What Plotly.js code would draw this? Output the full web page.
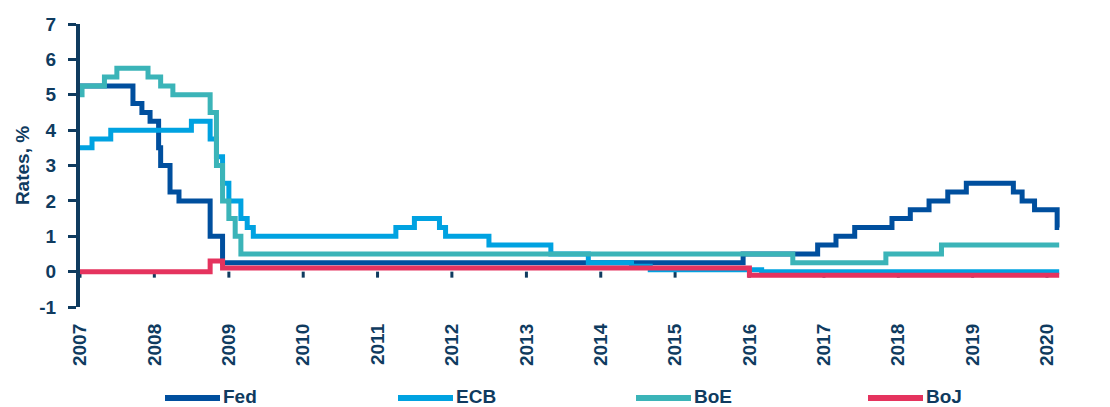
<!DOCTYPE html>
<html>
<head>
<meta charset="utf-8">
<script src="https://cdn.plot.ly/plotly-3.0.1.min.js"></script>
<style>html,body{margin:0;padding:0;background:#fff;}#chart{width:1110px;height:407px;}</style>
</head>
<body>
<div id="chart"></div>
<script>
// Policy rates (%), value from the given date onwards
const fedDates = ['2007-01-01','2007-09-18','2007-11-01','2007-12-11','2008-01-22','2008-02-01','2008-03-18','2008-05-01','2008-10-01','2008-12-01','2015-12-01','2016-12-01','2017-03-01','2017-06-01','2017-12-01','2018-03-01','2018-06-01','2018-09-01','2018-12-01','2019-07-20','2019-09-01','2019-11-01','2020-02-20','2020-03-01'];
const fedRates = [5.25,4.75,4.5,4.25,3.5,3.0,2.25,2.0,1.0,0.25,0.5,0.75,1.0,1.25,1.5,1.75,2.0,2.25,2.5,2.25,2.0,1.75,1.25,1.25];

const ecbDates = ['2007-01-01','2007-03-01','2007-06-01','2008-07-01','2008-10-01','2008-11-01','2008-12-01','2009-01-01','2009-03-01','2009-04-01','2009-05-01','2011-04-01','2011-07-01','2011-11-01','2011-12-01','2012-07-01','2013-05-01','2013-11-01','2014-06-01','2014-09-01','2016-03-01','2020-03-01'];
const ecbRates = [3.5,3.75,4.0,4.25,3.75,3.25,2.5,2.0,1.5,1.25,1.0,1.25,1.5,1.25,1.0,0.75,0.5,0.25,0.15,0.05,0.0,0.0];

const boeDates = ['2007-01-01','2007-01-11','2007-05-01','2007-07-01','2007-12-01','2008-02-01','2008-04-01','2008-10-01','2008-11-01','2008-12-01','2009-01-01','2009-02-01','2009-03-01','2016-08-01','2017-11-01','2018-08-01','2020-03-01'];
const boeRates = [5.0,5.25,5.5,5.75,5.5,5.25,5.0,4.5,3.0,2.0,1.5,1.0,0.5,0.25,0.5,0.75,0.75];

const bojDates = ['2007-01-01','2008-10-01','2008-12-01','2016-01-01','2020-03-01'];
const bojRates = [0.0,0.3,0.1,-0.1,-0.1];

const seriesNames = ['Fed','ECB','BoE','BoJ'];
const seriesColors = ['#004F9E','#00A2E1','#3BB4B8','#E5335E'];

const tickYears = ['2007','2008','2009','2010','2011','2012','2013','2014','2015','2016','2017','2018','2019','2020'];
const yTickVals = [-1,0,1,2,3,4,5,6,7];
const yTickText = ['-1','0','1','2','3','4','5','6','7'];

const navy = '#0F3B5F';
const font = {family: 'Liberation Sans, Arial, sans-serif', size: 19, color: navy, weight: 700};

const xs = [fedDates, ecbDates, boeDates, bojDates];
const ys = [fedRates, ecbRates, boeRates, bojRates];

const traces = seriesNames.map((n, i) => ({
  type: 'scatter', mode: 'lines', name: n, x: xs[i], y: ys[i],
  line: {color: seriesColors[i], width: 5, shape: 'hv'}, hoverinfo: 'skip', showlegend: false
}));

// plot area geometry (px) used to place the legend in paper coordinates
const L = 80, R = 50, T = 24, B = 100, W = 1110, H = 407;
const pw = W - L - R, ph = H - T - B;
const legendStartPx = [165, 398, 636, 868];
const legendLineLen = 55, legendLineYpx = 398, legendTextYpx = 396;

const tickShapes = tickYears.map(yr => ({
  type: 'line', xref: 'x', yref: 'y', x0: yr + '-01-01', x1: yr + '-01-01', y0: 0, y1: -0.17,
  line: {color: navy, width: 3}, layer: 'below'
}));

const legendShapes = seriesNames.map((n, i) => ({
  type: 'line', xref: 'paper', yref: 'paper',
  x0: (legendStartPx[i] - L) / pw, x1: (legendStartPx[i] + legendLineLen - L) / pw,
  y0: (H - B - legendLineYpx) / ph, y1: (H - B - legendLineYpx) / ph,
  line: {color: seriesColors[i], width: 6}
}));

const legendText = seriesNames.map((n, i) => ({
  xref: 'paper', yref: 'paper', x: (legendStartPx[i] + legendLineLen + 2 - L) / pw,
  y: (H - B - legendTextYpx) / ph, borderpad: 0,
  xanchor: 'left', yanchor: 'middle', text: n, showarrow: false, font: font
}));

const layout = {
  width: W, height: H,
  margin: {l: L, r: R, t: T, b: B},
  paper_bgcolor: '#fff', plot_bgcolor: '#fff',
  font: font,
  showlegend: false,
  xaxis: {type: 'date', range: ['2007-01-01', '2020-03-05'],
          tickvals: tickYears.map(y => y + '-01-01'), ticktext: tickYears,
          tickangle: -90, ticks: '', showgrid: false, zeroline: false, showline: false,
          ticklabelstandoff: 12, tickfont: font, automargin: false},
  yaxis: {range: [-1, 7], tickvals: yTickVals, ticktext: yTickText, showgrid: false, zeroline: false,
          showline: true, linecolor: navy, linewidth: 4,
          ticks: 'outside', ticklen: 8, tickwidth: 3, tickcolor: navy,
          ticklabelstandoff: 8, tickfont: font, automargin: false,
          title: {text: 'Rates, %', font: font, standoff: 6}},
  shapes: tickShapes.concat(legendShapes),
  annotations: legendText
};

Plotly.newPlot('chart', traces, layout, {displayModeBar: false, staticPlot: true});
</script>
</body>
</html>
